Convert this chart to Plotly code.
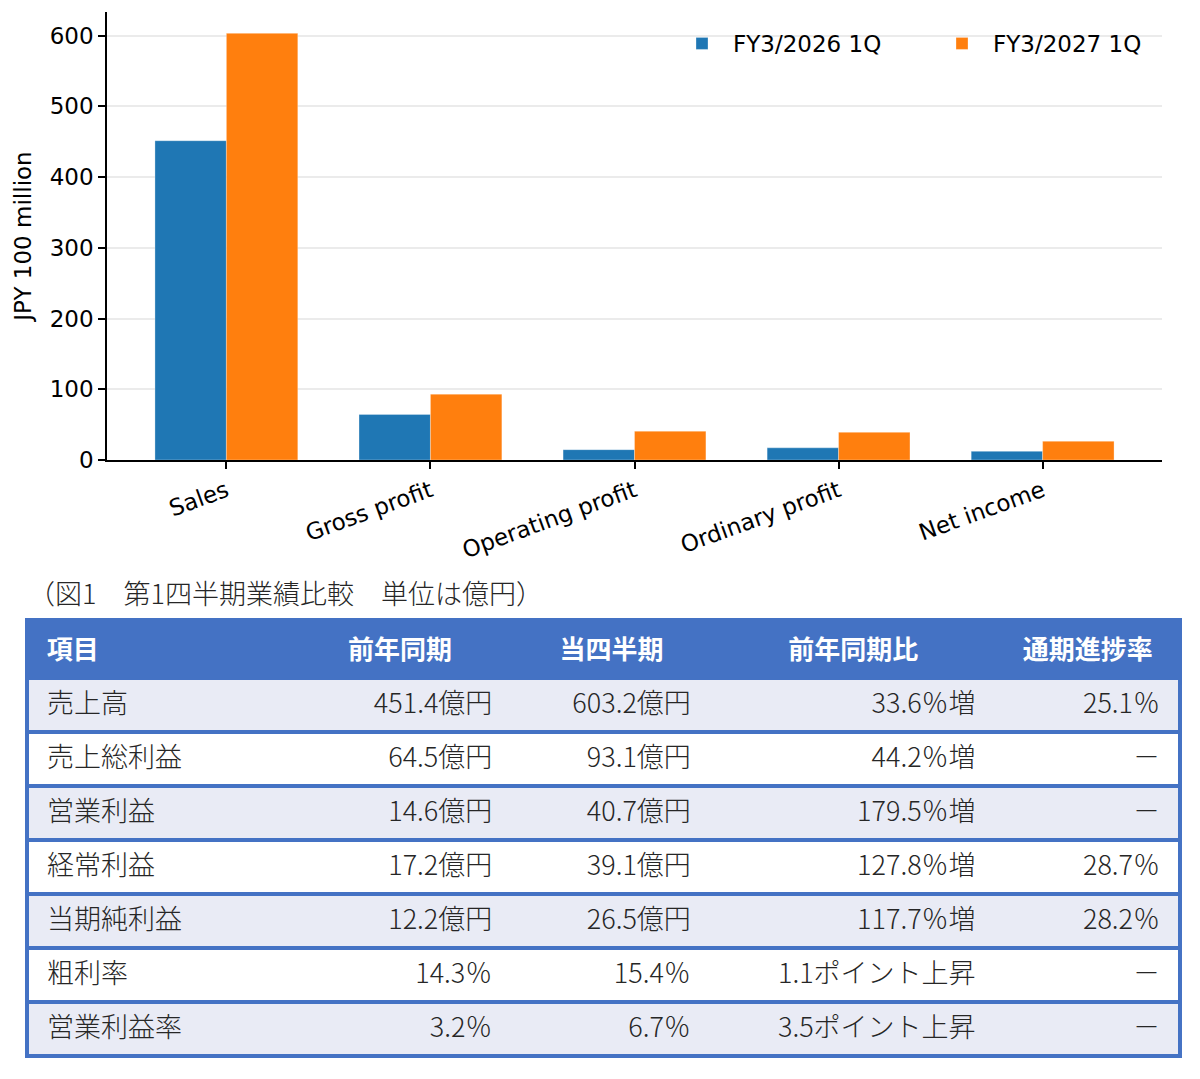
import plotly.graph_objects as go

# ---------------- data ----------------
categories = ["Sales", "Gross profit", "Operating profit", "Ordinary profit", "Net income"]
series_names = ["FY3/2026 1Q", "FY3/2027 1Q"]
fy2026_1q = [451.4, 64.5, 14.6, 17.2, 12.2]
fy2027_1q = [603.2, 93.1, 40.7, 39.1, 26.5]
y_ticks = [0, 100, 200, 300, 400, 500, 600]

caption = "（図1　第1四半期業績比較　単位は億円）"
table_header = ["項目", "前年同期", "当四半期", "前年同期比", "通期進捗率"]
col_items = ["売上高", "売上総利益", "営業利益", "経常利益", "当期純利益", "粗利率", "営業利益率"]
col_prev = ["451.4億円", "64.5億円", "14.6億円", "17.2億円", "12.2億円", "14.3％", "3.2％"]
col_curr = ["603.2億円", "93.1億円", "40.7億円", "39.1億円", "26.5億円", "15.4％", "6.7％"]
col_yoy = ["33.6％増", "44.2％増", "179.5％増", "127.8％増", "117.7％増", "1.1ポイント上昇", "3.5ポイント上昇"]
col_prog = ["25.1％", "－", "－", "28.7％", "28.2％", "－", "－"]

# ---------------- styling ----------------
OFF = 8                      # page body margin
W, H = 1200 - OFF, 1079 - OFF
BLUE = "#1f77b4"
ORANGE = "#ff7f0e"
TBL_BLUE = "#4472C4"
ROW_LIGHT = "#E9EBF5"
ROW_WHITE = "#FFFFFF"
TXT = "#262626"
CHART_FONT = "DejaVu Sans"
JP_FONT = "Noto Sans CJK JP"
FS = 23
JFS = 27


def px_x(p):
    return (p - OFF) / W


def px_y(p):
    return 1 - (p - OFF) / H


fig = go.Figure()
fig.add_trace(go.Bar(x=categories, y=fy2026_1q, name=series_names[0],
                     marker=dict(color=BLUE, line=dict(color="rgba(255,255,255,0.5)", width=0.6))))
fig.add_trace(go.Bar(x=categories, y=fy2027_1q, name=series_names[1],
                     marker=dict(color=ORANGE, line=dict(color="rgba(255,255,255,0.5)", width=0.6))))

# table background (row fills + horizontal blue rules)
n_rows = len(col_items)
row_fills = [ROW_LIGHT if i % 2 == 0 else ROW_WHITE for i in range(n_rows)]
tbl_top, tbl_bot = 620, 1062
fig.add_trace(go.Table(
    domain=dict(x=[px_x(27), px_x(1180)], y=[px_y(tbl_bot), px_y(tbl_top)]),
    columnwidth=[1],
    header=dict(values=[""], fill_color=TBL_BLUE, line=dict(color=TBL_BLUE, width=4), height=58),
    cells=dict(values=[[""] * n_rows], fill_color=[row_fills], line=dict(color=TBL_BLUE, width=4), height=54),
))

# table text
pad = "\u00a0\u00a0"
sh = 11
fig.add_trace(go.Table(
    domain=dict(x=[px_x(27), px_x(1180)], y=[px_y(tbl_bot + sh), px_y(tbl_top + sh)]),
    columnwidth=[260, 224, 198, 284, 184],
    header=dict(values=[pad + table_header[0]] + table_header[1:],
                fill_color="rgba(0,0,0,0)", line=dict(color="rgba(0,0,0,0)", width=0),
                align=["left", "center", "center", "center", "center"],
                font=dict(family=JP_FONT, size=JFS - 1, color="white", weight="bold"), height=54),
    cells=dict(values=[[pad + v for v in col_items],
                       [v + pad for v in col_prev],
                       [v + pad for v in col_curr],
                       [v + pad for v in col_yoy],
                       [v + pad for v in col_prog]],
               fill_color="rgba(0,0,0,0)", line=dict(color="rgba(0,0,0,0)", width=0),
               align=["left", "right", "right", "right", "right"],
               font=dict(family=JP_FONT, size=JFS, color=TXT, weight=300), height=54),
))

fig.update_layout(
    width=W, height=H,
    margin=dict(l=0, r=0, t=0, b=0, autoexpand=False),
    paper_bgcolor="white", plot_bgcolor="white",
    barmode="group", bargap=0.3, bargroupgap=0,
    font=dict(family=CHART_FONT, size=FS, color="black"),
    legend=dict(orientation="h", x=px_x(671), xanchor="left", y=px_y(22), yanchor="top",
                itemwidth=52, entrywidth=193, entrywidthmode="pixels",
                bgcolor="rgba(0,0,0,0)", font=dict(family=CHART_FONT, size=FS, color="black"),
                traceorder="normal"),
    xaxis=dict(domain=[px_x(107), px_x(1162)], range=[-0.585, 4.585],
               showline=True, linecolor="black", linewidth=1.6, mirror=False,
               ticks="outside", ticklen=7, tickwidth=1.5, tickcolor="black",
               tickangle=-20, showgrid=False, automargin=False,
               tickfont=dict(family=CHART_FONT, size=FS, color="black")),
    yaxis=dict(domain=[px_y(460), px_y(12)], range=[0, 633.4],
               tickvals=y_ticks, showline=True, linecolor="black", linewidth=1.6,
               ticks="outside", ticklen=7, tickwidth=1.5, tickcolor="black",
               showgrid=True, gridcolor="#ebebeb", gridwidth=1.5, zeroline=False,
               automargin=False,
               tickfont=dict(family=CHART_FONT, size=FS, color="black"),
               title=dict(text="JPY 100 million", standoff=12,
                          font=dict(family=CHART_FONT, size=FS, color="black"))),
    annotations=[dict(text=caption, xref="paper", yref="paper", x=px_x(26), y=px_y(593),
                      xanchor="left", yanchor="middle", showarrow=False,
                      font=dict(family=JP_FONT, size=JFS, color=TXT, weight=300))],
)

fig.write_html("out.html")
